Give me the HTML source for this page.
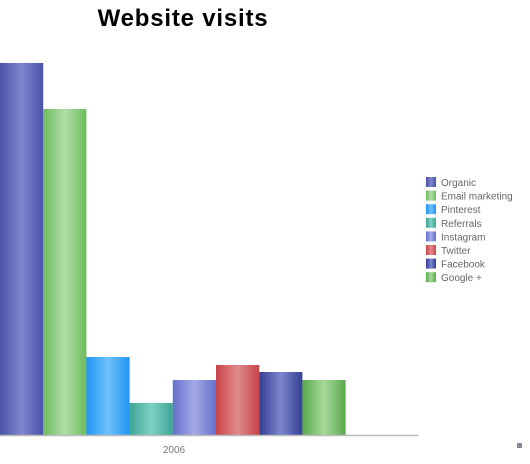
<!DOCTYPE html>
<html><head><meta charset="utf-8"><style>
body{margin:0;background:#fff;width:530px;height:464px;overflow:hidden}
svg{display:block}
</style></head><body>
<svg width="530" height="464">
<defs id="defs"></defs>
<text x="183" y="26" text-anchor="middle" font-family="Liberation Sans, sans-serif" font-weight="bold" font-size="24" letter-spacing="0.8" fill="#000">Website visits</text>
<g id="bars"></g>
<line x1="0" y1="435.5" x2="418" y2="435.5" stroke="#bbb" stroke-width="1.5"/>
<text x="174" y="453" text-anchor="middle" font-family="Liberation Sans, sans-serif" font-size="10" fill="#777">2006</text>
<g id="legend"></g>
<rect x="517" y="443" width="5" height="5" fill="#889"/>
</svg>
<script>
const categories=["Organic","Email marketing","Pinterest","Referrals","Instagram","Twitter","Facebook","Google +"];
const values=[372,326,78,32,55,70,63,55];
const edgeColors=["#4a52a8","#6bbb5c","#2196f3","#3da596","#6570cc","#c84448","#353f96","#5aaa4e"];
const midColors=["#8088d0","#b2dea8","#6ec0fa","#7fd0c4","#a4aae6","#df8a8c","#7d86cc","#a6d89a"];
const svgNS="http://www.w3.org/2000/svg";
const base=435, top0=63, maxV=372, x0=0, bw=43.2;
function yScale(v){return base-v*(base-top0)/maxV;}
function xScale(i){return x0+i*bw;}
const defs=document.getElementById('defs'),bars=document.getElementById('bars'),leg=document.getElementById('legend');
categories.forEach((c,i)=>{
  const g=document.createElementNS(svgNS,'linearGradient');
  g.setAttribute('id','g'+i);
  [[0,edgeColors[i]],[50,midColors[i]],[100,edgeColors[i]]].forEach(([o,col])=>{
    const s=document.createElementNS(svgNS,'stop');s.setAttribute('offset',o+'%');s.setAttribute('stop-color',col);g.appendChild(s);});
  defs.appendChild(g);
  const r=document.createElementNS(svgNS,'rect');
  r.setAttribute('x',xScale(i));r.setAttribute('y',yScale(values[i]));
  r.setAttribute('width',bw);r.setAttribute('height',base-yScale(values[i]));
  r.setAttribute('fill','url(#g'+i+')');
  
  
  bars.appendChild(r);
  const ly=177+i*13.6;
  const sq=document.createElementNS(svgNS,'rect');
  sq.setAttribute('x',426);sq.setAttribute('y',ly);sq.setAttribute('width',10);sq.setAttribute('height',10);
  sq.setAttribute('fill','url(#g'+i+')');
  
  
  leg.appendChild(sq);
  const t=document.createElementNS(svgNS,'text');
  t.setAttribute('x',441);t.setAttribute('y',ly+9);
  t.setAttribute('font-family','Liberation Sans, sans-serif');t.setAttribute('font-size','10');t.setAttribute('fill','#666');
  t.textContent=c;
  
  
  leg.appendChild(t);
});
</script>
</body></html>
